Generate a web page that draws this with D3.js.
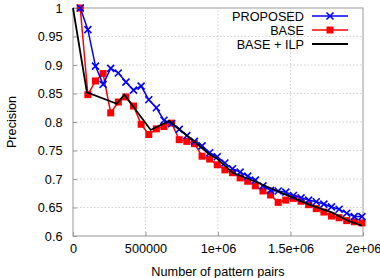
<!DOCTYPE html>
<html>
<head>
<meta charset="utf-8">
<script src="https://cdn.jsdelivr.net/npm/d3@7"></script>
<style>
  body { margin: 0; background: #fff; }
  svg text { font-family: "Liberation Sans", Arial, sans-serif; fill: #000; }
</style>
</head>
<body>
<div id="chart"></div>
<script>
// x positions (number of pattern pairs) shared by PROPOSED and BASE
const pairs = [50000, 102500, 155000, 207500, 260000, 312500, 365000, 417500, 470000, 522500,
  575000, 627500, 680000, 732500, 785000, 837500, 890000, 942500, 995000, 1047500,
  1100000, 1152500, 1205000, 1257500, 1310000, 1362500, 1415000, 1467500, 1520000, 1572500,
  1625000, 1677500, 1730000, 1782500, 1835000, 1887500, 1940000, 1992500];

const proposed = [1.0, 0.962, 0.898, 0.866, 0.894, 0.886, 0.870, 0.856, 0.863, 0.839,
  0.825, 0.803, 0.797, 0.787, 0.776, 0.766, 0.758, 0.746, 0.739, 0.728,
  0.718, 0.712, 0.705, 0.698, 0.688, 0.680, 0.679, 0.677, 0.671, 0.667,
  0.663, 0.660, 0.656, 0.651, 0.647, 0.640, 0.634, 0.634];

const base = [1.0, 0.848, 0.872, 0.885, 0.816, 0.835, 0.844, 0.828, 0.796, 0.778,
  0.788, 0.792, 0.798, 0.769, 0.766, 0.762, 0.740, 0.735, 0.725, 0.716,
  0.711, 0.702, 0.696, 0.688, 0.679, 0.672, 0.659, 0.663, 0.666, 0.661,
  0.655, 0.648, 0.642, 0.635, 0.632, 0.627, 0.625, 0.623];

// BASE + ILP is drawn as a plain line with its own sample points
const ilpPairs = [0, 96000, 302000, 354000, 536000, 663000, 873000, 942000, 987000,
  1102000, 1251000, 1491000, 1629000, 1789000, 1904000, 1993000];
const ilp = [1.0, 0.852, 0.832, 0.848, 0.786, 0.802, 0.758, 0.743, 0.737,
  0.711, 0.696, 0.670, 0.655, 0.641, 0.626, 0.618];

const xTicks = [0, 500000, 1000000, 1500000, 2000000];
const xTickLabels = ['0', '500000', '1e+06', '1.5e+06', '2e+06'];
const yTicks = [0.6, 0.65, 0.7, 0.75, 0.8, 0.85, 0.9, 0.95, 1];
const yTickLabels = ['0.6', '0.65', '0.7', '0.75', '0.8', '0.85', '0.9', '0.95', '1'];

const W = 380, H = 278;
const M = { left: 73, right: 17, top: 8, bottom: 42 };
const FS = '12.7px';

const svg = d3.select('#chart').append('svg')
  .attr('width', W).attr('height', H);

const x = d3.scaleLinear().domain([0, 2000000]).range([M.left, W - M.right]);
const y = d3.scaleLinear().domain([0.6, 1]).range([H - M.bottom, M.top]);

// grid
svg.append('g')
  .selectAll('line.gx')
  .data(xTicks.slice(1, -1))
  .join('line')
  .attr('x1', d => x(d)).attr('x2', d => x(d))
  .attr('y1', y(0.6)).attr('y2', y(1))
  .attr('stroke', '#bbb').attr('stroke-width', 0.7)
  .attr('stroke-dasharray', '1.5,2');

svg.append('g')
  .selectAll('line.gy')
  .data(yTicks.slice(1, -1))
  .join('line')
  .attr('x1', x(0)).attr('x2', x(2000000))
  .attr('y1', d => y(d)).attr('y2', d => y(d))
  .attr('stroke', '#bbb').attr('stroke-width', 0.7)
  .attr('stroke-dasharray', '1.5,2');

// axes
const xAxis = d3.axisBottom(x).tickValues(xTicks)
  .tickFormat((d, i) => xTickLabels[i]).tickSizeInner(-4).tickSizeOuter(0).tickPadding(8);
const yAxis = d3.axisLeft(y).tickValues(yTicks)
  .tickFormat((d, i) => yTickLabels[i]).tickSizeInner(-4).tickSizeOuter(0).tickPadding(10.5);

const gx = svg.append('g').attr('transform', `translate(0,${y(0.6)})`).call(xAxis);
const gy = svg.append('g').attr('transform', `translate(${x(0)},0)`).call(yAxis);
[gx, gy].forEach(g => {
  g.selectAll('text').style('font-size', FS).attr('fill', '#000');
  g.selectAll('line').attr('stroke', '#999');
  g.select('.domain').remove();
});

// frame
svg.append('rect')
  .attr('x', x(0)).attr('y', y(1))
  .attr('width', x(2000000) - x(0)).attr('height', y(0.6) - y(1))
  .attr('fill', 'none').attr('stroke', '#999').attr('stroke-width', 1);

// axis titles
svg.append('text')
  .attr('x', (x(0) + x(2000000)) / 2).attr('y', 275.5)
  .attr('text-anchor', 'middle').style('font-size', FS)
  .text('Number of pattern pairs');

svg.append('text')
  .attr('transform', `translate(16,${(y(0.6) + y(1)) / 2}) rotate(-90)`)
  .attr('text-anchor', 'middle').style('font-size', FS)
  .text('Precision');

const line = d3.line().x(d => x(d[0])).y(d => y(d[1]));

const plot = svg.append('g');

// BASE (red, squares)
const baseData = pairs.map((p, i) => [p, base[i]]);
plot.append('path').datum(baseData)
  .attr('d', line).attr('fill', 'none')
  .attr('stroke', '#f00').attr('stroke-width', 1.5);
plot.selectAll('rect.base').data(baseData).join('rect')
  .attr('class', 'base')
  .attr('x', d => x(d[0]) - 3.5).attr('y', d => y(d[1]) - 3.5)
  .attr('width', 7).attr('height', 7).attr('fill', '#f00');

// PROPOSED (blue, crosses)
const propData = pairs.map((p, i) => [p, proposed[i]]);
plot.append('path').datum(propData)
  .attr('d', line).attr('fill', 'none')
  .attr('stroke', '#00f').attr('stroke-width', 1.5);
plot.selectAll('path.prop').data(propData).join('path')
  .attr('class', 'prop')
  .attr('d', d => {
    const cx = x(d[0]), cy = y(d[1]), s = 3.5;
    return `M${cx - s},${cy - s}L${cx + s},${cy + s}M${cx - s},${cy + s}L${cx + s},${cy - s}`;
  })
  .attr('stroke', '#00f').attr('stroke-width', 1.6);

// BASE + ILP (black line)
const ilpData = ilpPairs.map((p, i) => [p, ilp[i]]);
plot.append('path').datum(ilpData)
  .attr('d', line).attr('fill', 'none')
  .attr('stroke', '#000').attr('stroke-width', 1.8);

// legend
const legend = [
  { name: 'PROPOSED', color: '#00f', mark: 'x' },
  { name: 'BASE', color: '#f00', mark: 's' },
  { name: 'BASE + ILP', color: '#000', mark: null },
];
const lg = svg.append('g');
legend.forEach((d, i) => {
  const ly = 16 + i * 14;
  lg.append('text').attr('x', 304).attr('y', ly + 4.5)
    .attr('text-anchor', 'end').style('font-size', FS).text(d.name);
  lg.append('line').attr('x1', 312).attr('x2', 348).attr('y1', ly).attr('y2', ly)
    .attr('stroke', d.color).attr('stroke-width', d.mark ? 1.5 : 1.8);
  if (d.mark === 'x') {
    lg.append('path')
      .attr('d', `M326.5,${ly - 3.5}L333.5,${ly + 3.5}M326.5,${ly + 3.5}L333.5,${ly - 3.5}`)
      .attr('stroke', d.color).attr('stroke-width', 1.6);
  } else if (d.mark === 's') {
    lg.append('rect').attr('x', 326.5).attr('y', ly - 3.5).attr('width', 7).attr('height', 7)
      .attr('fill', d.color);
  }
});
</script>
</body>
</html>
